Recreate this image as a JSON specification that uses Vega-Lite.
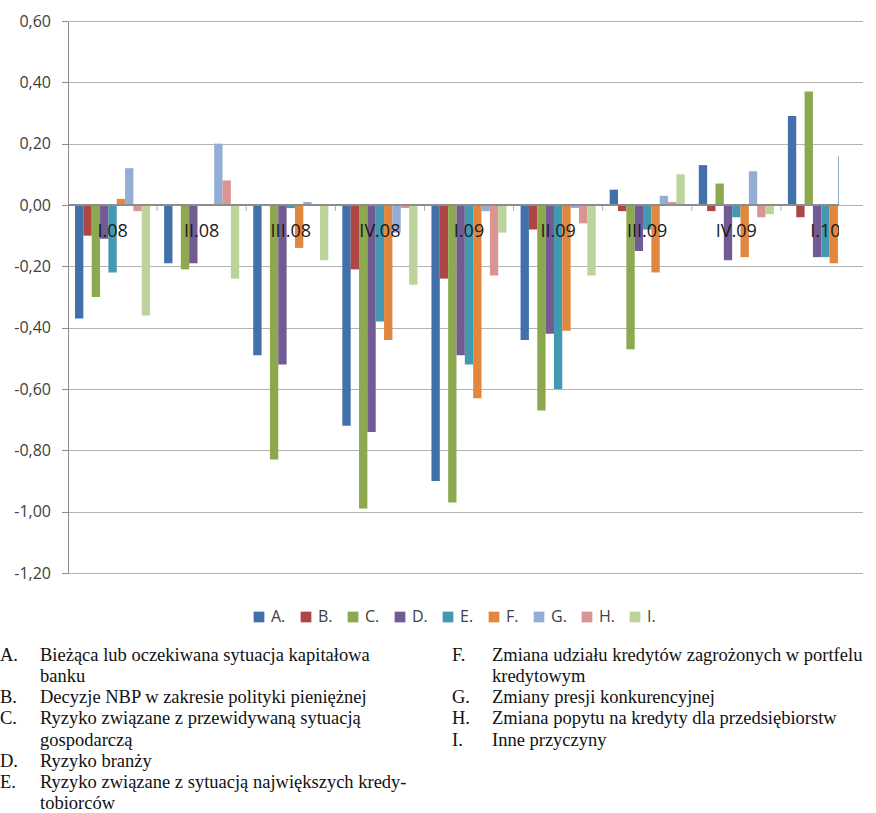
{
  "$schema": "https://vega.github.io/schema/vega-lite/v6.json",
  "padding": {"left": 0, "top": 13, "right": 0, "bottom": 0},
  "bounds": "flush",
  "spacing": 82,
  "resolve": {"legend": {"color": "independent"}},
  "config": {
    "view": {"stroke": null},
    "font": "Open Sans",
    "legend": {"layout": {"bottom": {"anchor": "middle"}}}
  },
  "datasets": {
    "bars": [
      {"period": "I.08", "series": "A.", "value": -0.37},
      {"period": "I.08", "series": "B.", "value": -0.10},
      {"period": "I.08", "series": "C.", "value": -0.30},
      {"period": "I.08", "series": "D.", "value": -0.11},
      {"period": "I.08", "series": "E.", "value": -0.22},
      {"period": "I.08", "series": "F.", "value": 0.02},
      {"period": "I.08", "series": "G.", "value": 0.12},
      {"period": "I.08", "series": "H.", "value": -0.02},
      {"period": "I.08", "series": "I.", "value": -0.36},
      {"period": "II.08", "series": "A.", "value": -0.19},
      {"period": "II.08", "series": "B.", "value": 0.00},
      {"period": "II.08", "series": "C.", "value": -0.21},
      {"period": "II.08", "series": "D.", "value": -0.19},
      {"period": "II.08", "series": "E.", "value": 0.00},
      {"period": "II.08", "series": "F.", "value": 0.00},
      {"period": "II.08", "series": "G.", "value": 0.20},
      {"period": "II.08", "series": "H.", "value": 0.08},
      {"period": "II.08", "series": "I.", "value": -0.24},
      {"period": "III.08", "series": "A.", "value": -0.49},
      {"period": "III.08", "series": "B.", "value": 0.00},
      {"period": "III.08", "series": "C.", "value": -0.83},
      {"period": "III.08", "series": "D.", "value": -0.52},
      {"period": "III.08", "series": "E.", "value": -0.01},
      {"period": "III.08", "series": "F.", "value": -0.14},
      {"period": "III.08", "series": "G.", "value": 0.01},
      {"period": "III.08", "series": "H.", "value": 0.00},
      {"period": "III.08", "series": "I.", "value": -0.18},
      {"period": "IV.08", "series": "A.", "value": -0.72},
      {"period": "IV.08", "series": "B.", "value": -0.21},
      {"period": "IV.08", "series": "C.", "value": -0.99},
      {"period": "IV.08", "series": "D.", "value": -0.74},
      {"period": "IV.08", "series": "E.", "value": -0.38},
      {"period": "IV.08", "series": "F.", "value": -0.44},
      {"period": "IV.08", "series": "G.", "value": -0.09},
      {"period": "IV.08", "series": "H.", "value": -0.01},
      {"period": "IV.08", "series": "I.", "value": -0.26},
      {"period": "I.09", "series": "A.", "value": -0.90},
      {"period": "I.09", "series": "B.", "value": -0.24},
      {"period": "I.09", "series": "C.", "value": -0.97},
      {"period": "I.09", "series": "D.", "value": -0.49},
      {"period": "I.09", "series": "E.", "value": -0.52},
      {"period": "I.09", "series": "F.", "value": -0.63},
      {"period": "I.09", "series": "G.", "value": -0.02},
      {"period": "I.09", "series": "H.", "value": -0.23},
      {"period": "I.09", "series": "I.", "value": -0.09},
      {"period": "II.09", "series": "A.", "value": -0.44},
      {"period": "II.09", "series": "B.", "value": -0.08},
      {"period": "II.09", "series": "C.", "value": -0.67},
      {"period": "II.09", "series": "D.", "value": -0.42},
      {"period": "II.09", "series": "E.", "value": -0.60},
      {"period": "II.09", "series": "F.", "value": -0.41},
      {"period": "II.09", "series": "G.", "value": -0.01},
      {"period": "II.09", "series": "H.", "value": -0.06},
      {"period": "II.09", "series": "I.", "value": -0.23},
      {"period": "III.09", "series": "A.", "value": 0.05},
      {"period": "III.09", "series": "B.", "value": -0.02},
      {"period": "III.09", "series": "C.", "value": -0.47},
      {"period": "III.09", "series": "D.", "value": -0.15},
      {"period": "III.09", "series": "E.", "value": -0.08},
      {"period": "III.09", "series": "F.", "value": -0.22},
      {"period": "III.09", "series": "G.", "value": 0.03},
      {"period": "III.09", "series": "H.", "value": 0.01},
      {"period": "III.09", "series": "I.", "value": 0.10},
      {"period": "IV.09", "series": "A.", "value": 0.13},
      {"period": "IV.09", "series": "B.", "value": -0.02},
      {"period": "IV.09", "series": "C.", "value": 0.07},
      {"period": "IV.09", "series": "D.", "value": -0.18},
      {"period": "IV.09", "series": "E.", "value": -0.04},
      {"period": "IV.09", "series": "F.", "value": -0.17},
      {"period": "IV.09", "series": "G.", "value": 0.11},
      {"period": "IV.09", "series": "H.", "value": -0.04},
      {"period": "IV.09", "series": "I.", "value": -0.03},
      {"period": "I.10", "series": "A.", "value": 0.29},
      {"period": "I.10", "series": "B.", "value": -0.04},
      {"period": "I.10", "series": "C.", "value": 0.37},
      {"period": "I.10", "series": "D.", "value": -0.17},
      {"period": "I.10", "series": "E.", "value": -0.17},
      {"period": "I.10", "series": "F.", "value": -0.19},
      {"period": "I.10", "series": "G.", "value": 0.16}
    ],
    "notes": [
      {"col": "L", "line": 1, "key": "A.", "text": "Bieżąca lub oczekiwana sytuacja kapitałowa"},
      {"col": "L", "line": 2, "key": "", "text": "banku"},
      {"col": "L", "line": 3, "key": "B.", "text": "Decyzje NBP w zakresie polityki pieniężnej"},
      {"col": "L", "line": 4, "key": "C.", "text": "Ryzyko związane z przewidywaną sytuacją"},
      {"col": "L", "line": 5, "key": "", "text": "gospodarczą"},
      {"col": "L", "line": 6, "key": "D.", "text": "Ryzyko branży"},
      {"col": "L", "line": 7, "key": "E.", "text": "Ryzyko związane z sytuacją największych kredy-"},
      {"col": "L", "line": 8, "key": "", "text": "tobiorców"},
      {"col": "R", "line": 1, "key": "F.", "text": "Zmiana udziału kredytów zagrożonych w portfelu"},
      {"col": "R", "line": 2, "key": "", "text": "kredytowym"},
      {"col": "R", "line": 3, "key": "G.", "text": "Zmiany presji konkurencyjnej"},
      {"col": "R", "line": 4, "key": "H.", "text": "Zmiana popytu na kredyty dla przedsiębiorstw"},
      {"col": "R", "line": 5, "key": "I.", "text": "Inne przyczyny"}
    ]
  },
  "vconcat": [
    {
      "width": 771,
      "height": 552,
      "data": {"name": "bars"},
      "layer": [
        {
          "mark": {"type": "bar", "clip": true},
          "encoding": {
            "x": {
              "field": "period", "type": "nominal",
              "scale": {
                "type": "band",
                "domain": ["I.08", "II.08", "III.08", "IV.08", "I.09", "II.09", "III.09", "IV.09", "I.10"],
                "paddingInner": 0, "paddingOuter": 0,
                "range": [0, 802]
              },
              "axis": null
            },
            "xOffset": {
              "field": "series", "type": "nominal",
              "scale": {"paddingInner": 0, "paddingOuter": 0.84}
            },
            "y": {
              "field": "value", "type": "quantitative",
              "scale": {"domain": [-1.2, 0.6], "nice": false, "zero": false},
              "axis": {
                "title": null,
                "values": [-1.2, -1, -0.8, -0.6, -0.4, -0.2, 0, 0.2, 0.4, 0.6],
                "labelExpr": "(datum.value < 0 ? '-' : '') + replace(format(abs(datum.value), '.2f'), '.', ',')",
                "grid": true,
                "gridColor": "#b3b3b3",
                "domainColor": "#8c8c8c",
                "tickColor": "#8c8c8c",
                "tickSize": 6.5,
                "labelPadding": 11,
                "labelFontSize": 16,
                "labelColor": "#404040"
              }
            },
            "color": {
              "field": "series", "type": "nominal",
              "scale": {
                "domain": ["A.", "B.", "C.", "D.", "E.", "F.", "G.", "H.", "I."],
                "range": ["#4170ab", "#ae4644", "#8ca94f", "#725a92", "#4399b2", "#e1873e", "#93aed5", "#d89593", "#bcd39b"]
              },
              "legend": {
                "title": null,
                "orient": "bottom",
                "direction": "horizontal",
                "symbolType": "square",
                "symbolSize": 115,
                "symbolStrokeWidth": 0,
                "labelFontSize": 16,
                "labelColor": "#404040",
                "labelOffset": 4,
                "columnPadding": 12,
                "offset": 36
              }
            }
          }
        },
        {
          "mark": {"type": "rule", "color": "#8c8c8c"},
          "encoding": {"y": {"datum": 0}}
        },
        {
          "transform": [{"filter": "datum.series === 'A.'"}],
          "mark": {"type": "tick", "orient": "vertical", "color": "#8c8c8c", "size": 6, "thickness": 1, "yOffset": 3, "clip": true},
          "encoding": {
            "x": {"field": "period", "type": "nominal", "bandPosition": 0},
            "y": {"datum": 0}
          }
        },
        {
          "transform": [{"filter": "datum.series === 'A.'"}],
          "mark": {"type": "text", "fontSize": 18, "color": "#1a1a1a", "baseline": "middle", "dy": 27, "clip": true},
          "encoding": {
            "x": {"field": "period", "type": "nominal"},
            "y": {"datum": 0},
            "text": {"field": "period"}
          }
        }
      ]
    },
    {
      "width": 771,
      "height": 148,
      "data": {"name": "notes"},
      "encoding": {
        "x": {"field": "col", "type": "nominal", "scale": {"type": "point", "padding": 0, "range": [-68, 384]}, "axis": null},
        "y": {"field": "line", "type": "ordinal", "scale": {"type": "point", "padding": 0}, "axis": null}
      },
      "layer": [
        {
          "mark": {"type": "text", "align": "left", "baseline": "middle", "font": "Liberation Serif", "fontSize": 18.5, "color": "#111111"},
          "encoding": {"text": {"field": "key"}}
        },
        {
          "mark": {"type": "text", "align": "left", "baseline": "middle", "font": "Liberation Serif", "fontSize": 18.5, "color": "#111111", "dx": 40},
          "encoding": {"text": {"field": "text"}}
        }
      ]
    }
  ]
}
